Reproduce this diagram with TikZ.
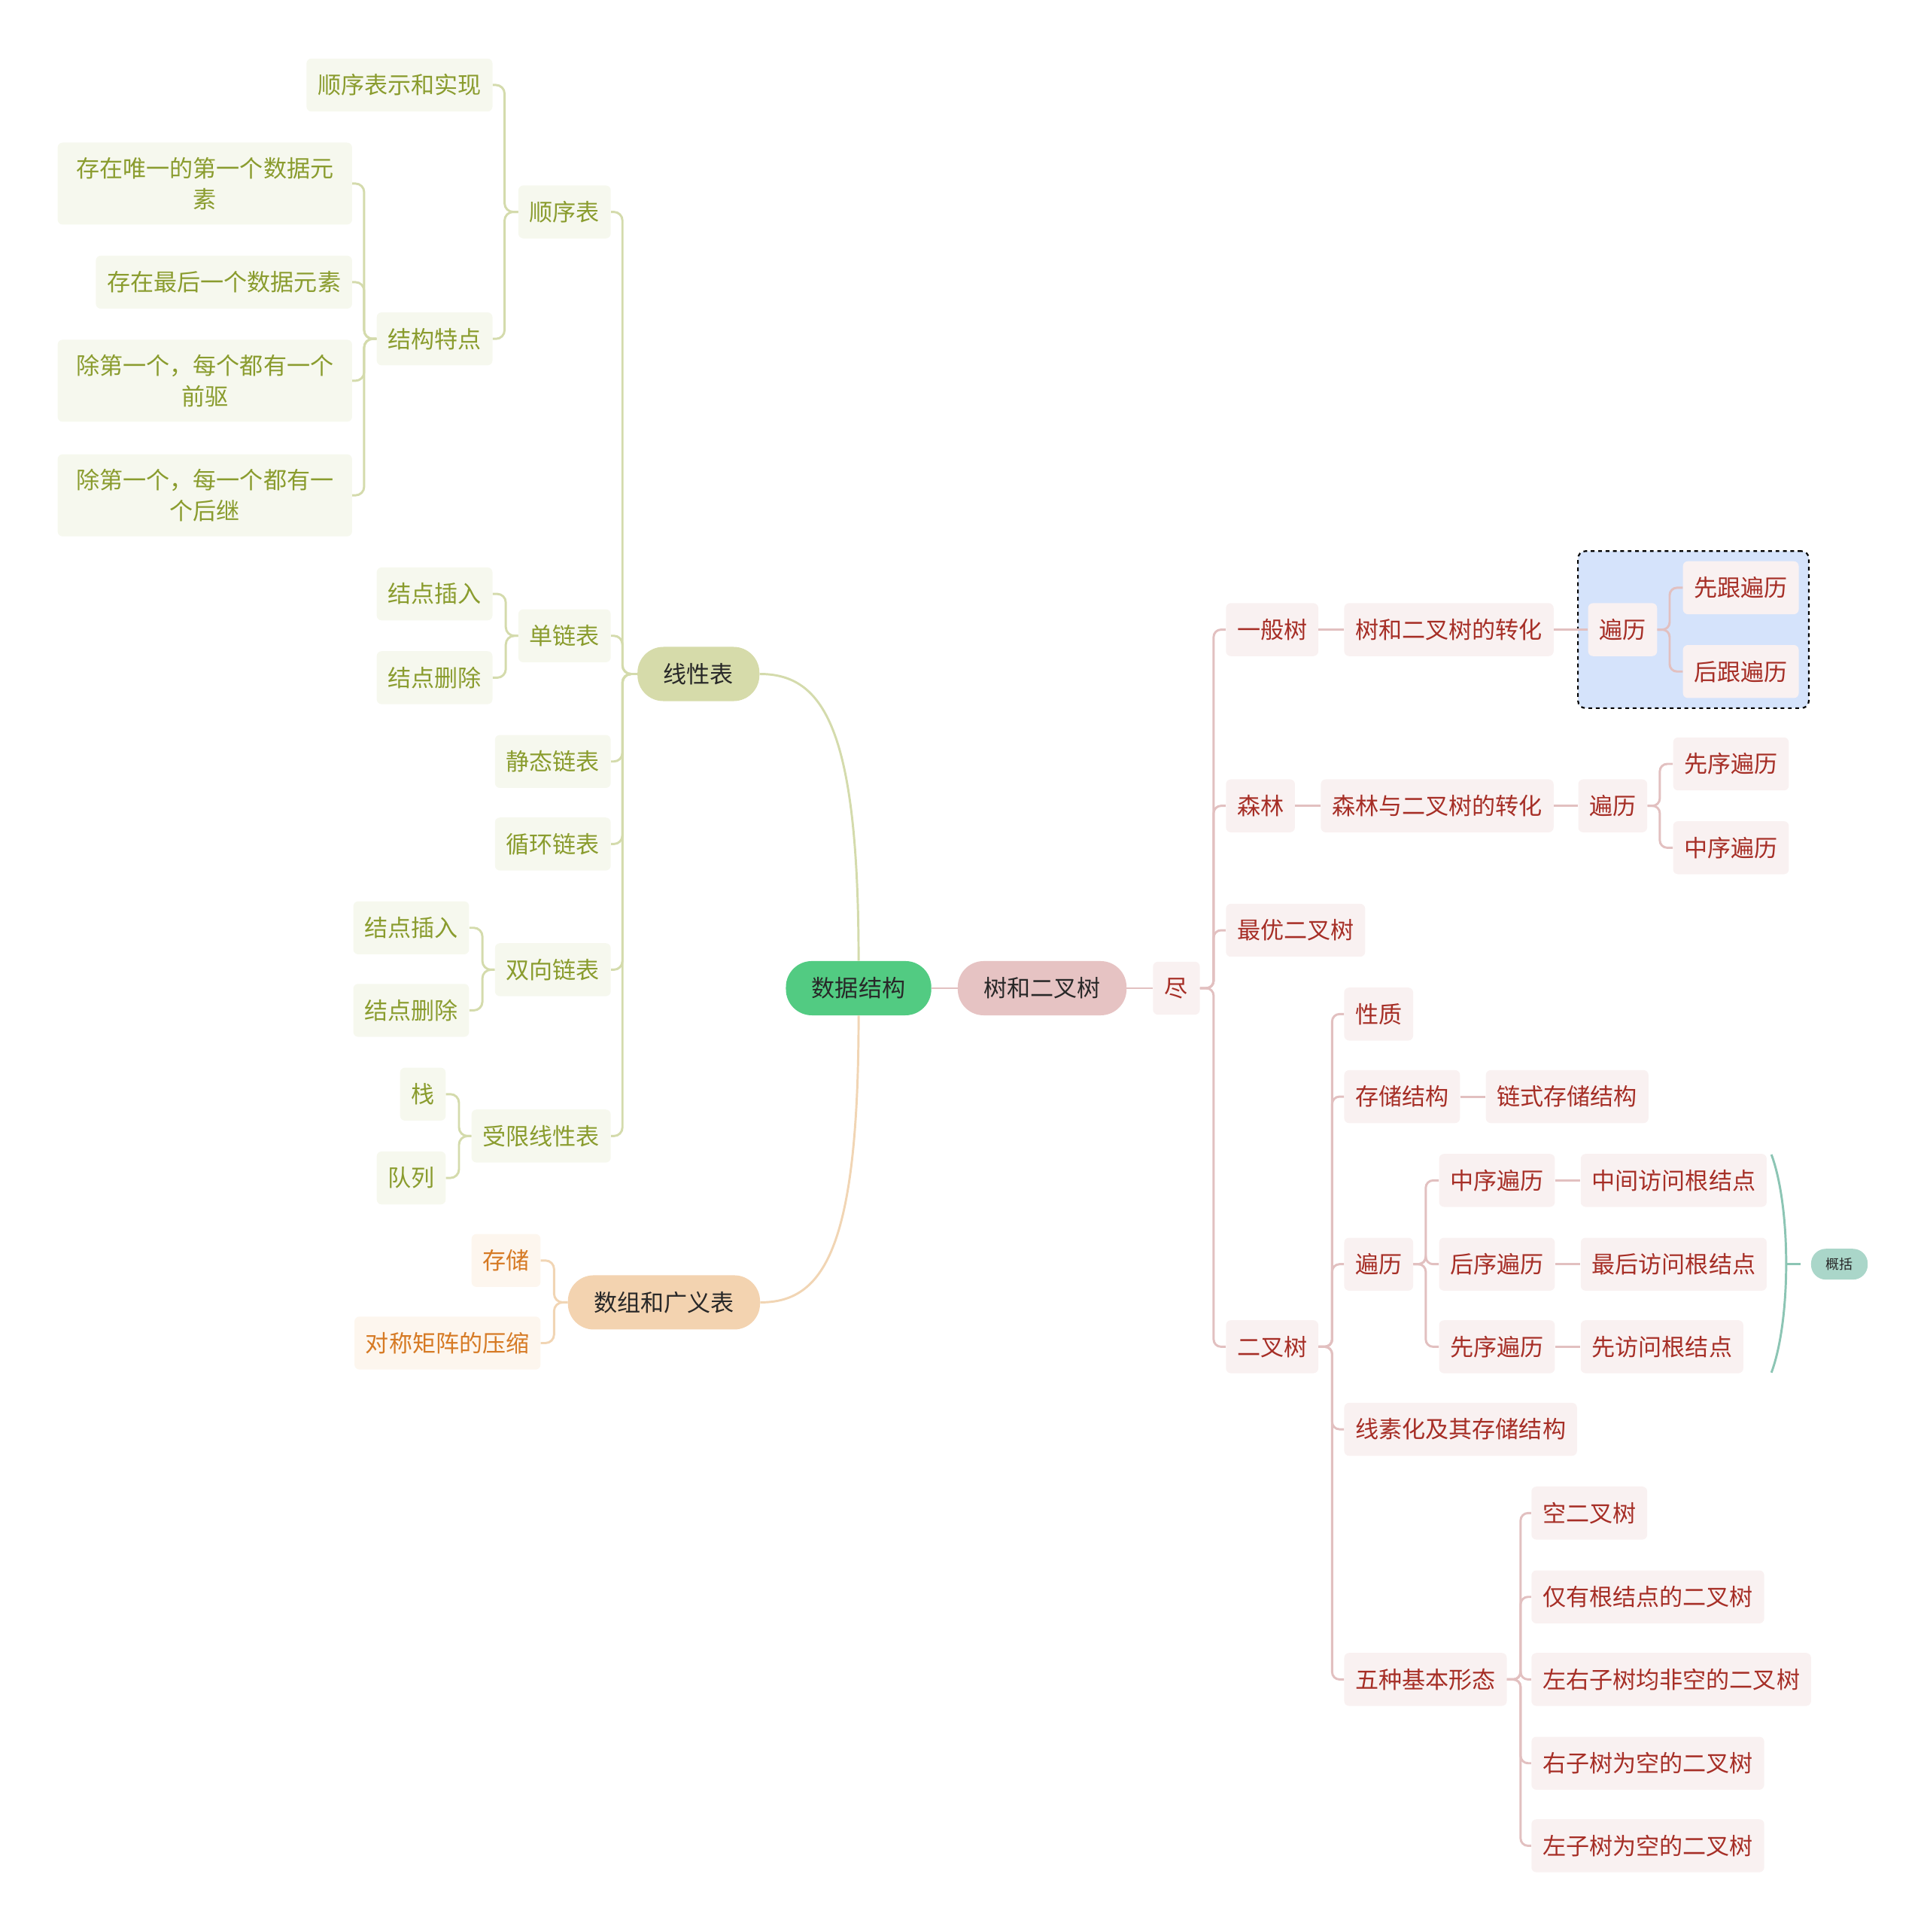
\documentclass[tikz,border=0pt]{standalone}
\usepackage{fontspec}
\newfontfamily\cjk{Noto Sans CJK SC}
\usetikzlibrary{positioning, fit, backgrounds}

\definecolor{olivetext}{RGB}{138,156,46}
\definecolor{olivefill}{RGB}{246,248,238}
\definecolor{oliveline}{RGB}{212,219,172}
\definecolor{redtext}{RGB}{166,46,38}
\definecolor{redfill}{RGB}{249,241,241}
\definecolor{redline}{RGB}{226,192,192}
\definecolor{ortext}{RGB}{214,122,36}
\definecolor{orfill}{RGB}{253,246,238}
\definecolor{orline}{RGB}{241,213,180}
\definecolor{rootgreen}{RGB}{82,203,130}
\definecolor{treepink}{RGB}{230,195,195}
\definecolor{linolive}{RGB}{214,219,170}
\definecolor{arrpeach}{RGB}{243,211,176}
\definecolor{travblue}{RGB}{213,227,251}
\definecolor{sumteal}{RGB}{140,197,180}
\definecolor{sumfill}{RGB}{170,214,201}
\definecolor{pilltext}{RGB}{40,40,40}

\begin{document}
\begin{tikzpicture}[x=1pt, y=-1pt,
    every node/.style={font=\cjk\fontsize{19}{25}\selectfont},
    box/.style   ={rounded corners=4pt, inner xsep=9pt, inner ysep=12pt,
                   minimum height=43pt, align=center},
    olbox/.style ={box, fill=olivefill, text=olivetext},
    widebox/.style={olbox, minimum width=239pt},
    rdbox/.style ={box, fill=redfill, text=redtext},
    orbox/.style ={box, fill=orfill, text=ortext},
    pill/.style  ={rounded corners=21pt, inner xsep=21pt, inner ysep=0pt,
                   minimum height=44pt, text=pilltext},
    sumpill/.style={rounded corners=12pt, inner xsep=12pt, inner ysep=0pt,
                   minimum height=25pt, fill=sumfill, text=pilltext,
                   font=\cjk\fontsize{11}{13}\selectfont},
    olline/.style={draw=oliveline, line width=1.8pt, rounded corners=7pt},
    rdline/.style={draw=redline, line width=1.8pt, rounded corners=6pt},
    orline/.style={draw=orline, line width=1.8pt, rounded corners=7pt},
    tealline/.style={draw=sumteal, line width=1.8pt},
]
\useasboundingbox (0,0) rectangle (1564,1568);

% centre
\node[pill, fill=rootgreen] (root) at (697,802) {数据结构};
\node[pill, fill=treepink]  (tree) at (846,802) {树和二叉树};
\node[rdbox, inner xsep=9.5pt] (jin) at (955,802) {尽};

% left main branches
\node[pill, fill=linolive] (lin) at (567,547)  {线性表};
\node[pill, fill=arrpeach] (arr) at (539,1057) {数组和广义表};

% linear list
\node[olbox, anchor=east] (seq)    at (496,172) {顺序表};
\node[olbox, anchor=east] (single) at (496,516) {单链表};
\node[olbox, anchor=east] (static) at (496,618) {静态链表};
\node[olbox, anchor=east] (circ)   at (496,685) {循环链表};
\node[olbox, anchor=east] (dbl)    at (496,787) {双向链表};
\node[olbox, anchor=east] (lim)    at (496,922) {受限线性表};

\node[olbox, anchor=east] (impl) at (400,69)  {顺序表示和实现};
\node[olbox, anchor=east] (feat) at (400,275) {结构特点};
\node[widebox, anchor=east] (c1) at (286,149) {存在唯一的第一个数据元\\素};
\node[olbox, anchor=east] (c2) at (286,229) {存在最后一个数据元素};
\node[widebox, anchor=east] (c3) at (286,309) {除第一个，每个都有一个\\前驱};
\node[widebox, anchor=east] (c4) at (286,402) {除第一个，每一个都有一\\个后继};

\node[olbox, anchor=east] (ins1) at (400,482) {结点插入};
\node[olbox, anchor=east] (del1) at (400,550) {结点删除};
\node[olbox, anchor=east] (ins2) at (381,753) {结点插入};
\node[olbox, anchor=east] (del2) at (381,820) {结点删除};
\node[olbox, anchor=east] (stack) at (362,888) {栈};
\node[olbox, anchor=east] (queue) at (362,956) {队列};

% arrays
\node[orbox, anchor=east] (st)  at (439,1023) {存储};
\node[orbox, anchor=east] (sym) at (439,1090) {对称矩阵的压缩};

% trees, first level
\node[rdbox, anchor=west] (gen)    at (995,511)  {一般树};
\node[rdbox, anchor=west] (forest) at (995,654)  {森林};
\node[rdbox, anchor=west] (opt)    at (995,755)  {最优二叉树};
\node[rdbox, anchor=west] (bin)    at (995,1093) {二叉树};

% general tree
\node[rdbox, anchor=west] (conv1) at (1091,511) {树和二叉树的转化};
\node[rdbox, anchor=west] (trav1) at (1289,511) {遍历};
\node[rdbox, anchor=west] (pre1)  at (1366,477) {先跟遍历};
\node[rdbox, anchor=west] (post1) at (1366,545) {后跟遍历};
\begin{scope}[on background layer]
\node[draw, dashed, line width=1.3pt, rounded corners=6pt, fill=travblue,
      inner sep=8pt, fit=(trav1)(pre1)(post1)] (frame) {};
\end{scope}

% forest
\node[rdbox, anchor=west] (conv2) at (1072,654) {森林与二叉树的转化};
\node[rdbox, anchor=west] (trav2) at (1281,654) {遍历};
\node[rdbox, anchor=west] (pre2)  at (1358,620) {先序遍历};
\node[rdbox, anchor=west] (in2)   at (1358,688) {中序遍历};

% binary tree
\node[rdbox, anchor=west] (prop)   at (1091,823)  {性质};
\node[rdbox, anchor=west] (store)  at (1091,890)  {存储结构};
\node[rdbox, anchor=west] (link)   at (1206,890)  {链式存储结构};
\node[rdbox, anchor=west] (trav3)  at (1091,1026) {遍历};
\node[rdbox, anchor=west] (thread) at (1091,1160) {线素化及其存储结构};
\node[rdbox, anchor=west] (five)   at (1091,1363) {五种基本形态};

\node[rdbox, anchor=west] (in3)   at (1168,958)  {中序遍历};
\node[rdbox, anchor=west] (post3) at (1168,1026) {后序遍历};
\node[rdbox, anchor=west] (pre3)  at (1168,1093) {先序遍历};
\node[rdbox, anchor=west] (r1) at (1283,958)  {中间访问根结点};
\node[rdbox, anchor=west] (r2) at (1283,1026) {最后访问根结点};
\node[rdbox, anchor=west] (r3) at (1283,1093) {先访问根结点};

\node[rdbox, anchor=west] (f1) at (1243,1228) {空二叉树};
\node[rdbox, anchor=west] (f2) at (1243,1296) {仅有根结点的二叉树};
\node[rdbox, anchor=west] (f3) at (1243,1363) {左右子树均非空的二叉树};
\node[rdbox, anchor=west] (f4) at (1243,1431) {右子树为空的二叉树};
\node[rdbox, anchor=west] (f5) at (1243,1498) {左子树为空的二叉树};

% summary of the three traversals
\coordinate (sumtip) at (1450,1026);
\coordinate (sumend) at (1462,1026);
\node[sumpill, right=8pt of sumend] (sum) {概括};
\draw[tealline] (1438,937) .. controls (1454,980) and (1454,1071) .. (1438,1114);
\draw[tealline] (sumtip) -- (sumend);

% centre links
\draw[rdline] (root) -- (tree);
\draw[rdline] (tree) -- (jin);
\draw[olline] (root.north) .. controls (697,590) and (668,547) .. (lin.east);
\draw[orline] (root.south) .. controls (697,1015) and (668,1057) .. (arr.east);

% linear list links
\draw[olline] (lin.west) -- ++(-12,0) |- (seq.east);
\draw[olline] (lin.west) -- ++(-12,0) |- (single.east);
\draw[olline] (lin.west) -- ++(-12,0) |- (static.east);
\draw[olline] (lin.west) -- ++(-12,0) |- (circ.east);
\draw[olline] (lin.west) -- ++(-12,0) |- (dbl.east);
\draw[olline] (lin.west) -- ++(-12,0) |- (lim.east);
\draw[olline] (seq.west) -- ++(-11,0) |- (impl.east);
\draw[olline] (seq.west) -- ++(-11,0) |- (feat.east);
\draw[olline] (feat.west) -- ++(-10,0) |- (c1.east);
\draw[olline] (feat.west) -- ++(-10,0) |- (c2.east);
\draw[olline] (feat.west) -- ++(-10,0) |- (c3.east);
\draw[olline] (feat.west) -- ++(-10,0) |- (c4.east);
\draw[olline] (single.west) -- ++(-10,0) |- (ins1.east);
\draw[olline] (single.west) -- ++(-10,0) |- (del1.east);
\draw[olline] (dbl.west) -- ++(-10,0) |- (ins2.east);
\draw[olline] (dbl.west) -- ++(-10,0) |- (del2.east);
\draw[olline] (lim.west) -- ++(-10,0) |- (stack.east);
\draw[olline] (lim.west) -- ++(-10,0) |- (queue.east);
\draw[orline] (arr.west) -- ++(-11,0) |- (st.east);
\draw[orline] (arr.west) -- ++(-11,0) |- (sym.east);

% tree links
\draw[rdline] (jin.east) -- ++(11,0) |- (gen.west);
\draw[rdline] (jin.east) -- ++(11,0) |- (forest.west);
\draw[rdline] (jin.east) -- ++(11,0) |- (opt.west);
\draw[rdline] (jin.east) -- ++(11,0) |- (bin.west);
\draw[rdline] (gen) -- (conv1);
\draw[rdline] (conv1) -- (trav1);
\draw[rdline] (trav1.east) -- ++(10,0) |- (pre1.west);
\draw[rdline] (trav1.east) -- ++(10,0) |- (post1.west);
\draw[rdline] (forest) -- (conv2);
\draw[rdline] (conv2) -- (trav2);
\draw[rdline] (trav2.east) -- ++(10,0) |- (pre2.west);
\draw[rdline] (trav2.east) -- ++(10,0) |- (in2.west);
\draw[rdline] (bin.east) -- ++(11,0) |- (prop.west);
\draw[rdline] (bin.east) -- ++(11,0) |- (store.west);
\draw[rdline] (bin.east) -- ++(11,0) |- (trav3.west);
\draw[rdline] (bin.east) -- ++(11,0) |- (thread.west);
\draw[rdline] (bin.east) -- ++(11,0) |- (five.west);
\draw[rdline] (store) -- (link);
\draw[rdline] (trav3.east) -- ++(10,0) |- (in3.west);
\draw[rdline] (trav3.east) -- ++(10,0) |- (post3.west);
\draw[rdline] (trav3.east) -- ++(10,0) |- (pre3.west);
\draw[rdline] (in3) -- (r1);
\draw[rdline] (post3) -- (r2);
\draw[rdline] (pre3) -- (r3);
\draw[rdline] (five.east) -- ++(11,0) |- (f1.west);
\draw[rdline] (five.east) -- ++(11,0) |- (f2.west);
\draw[rdline] (five.east) -- ++(11,0) |- (f3.west);
\draw[rdline] (five.east) -- ++(11,0) |- (f4.west);
\draw[rdline] (five.east) -- ++(11,0) |- (f5.west);
\end{tikzpicture}
\end{document}
